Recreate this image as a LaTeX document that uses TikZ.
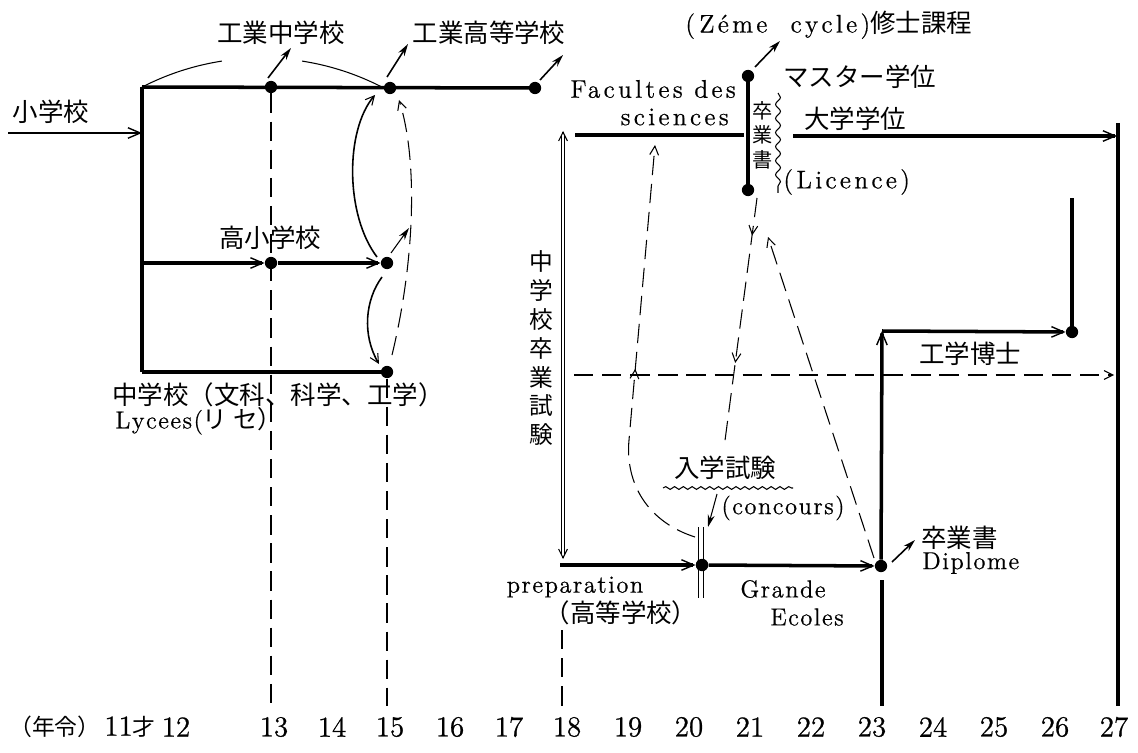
\documentclass[tikz,border=0pt]{standalone}
\usepackage{fontspec}
\newfontfamily\jp{Noto Sans CJK JP}
\newfontfamily\lat{lmroman12-regular.otf}[LetterSpace=6.0,FakeBold=0.6]
\newfontfamily\latw{lmroman12-regular.otf}[LetterSpace=13.0,FakeBold=0.6]
\newfontfamily\num{lmroman12-regular.otf}[FakeBold=0.8]
\usetikzlibrary{arrows.meta,decorations.pathmorphing,decorations.markings,calc}
\tikzset{
  sb/.tip={Straight Barb[length=5pt,width=5pt,line width=0.6pt]},
  bb/.tip={Straight Barb[length=7pt,width=6pt,line width=0.8pt]},
  stk/.tip={Stealth[length=7pt,width=4pt]},
  thk/.style={line width=2pt},
  mid/.style={line width=0.9pt},
  thn/.style={line width=0.6pt},
  dsh/.style={line width=0.6pt, dash pattern=on 11pt off 5pt},
  dot/.style={circle, fill=black, inner sep=0pt, minimum size=7pt},
  jt/.style={font=\jp\fontsize{14.5}{17}\selectfont, inner sep=0pt},
  lt/.style={font=\lat\fontsize{14}{17}\selectfont, inner sep=0pt},
  lw/.style={font=\latw\fontsize{14.5}{17}\selectfont, inner sep=0pt},
  bl/.style={font=\num\fontsize{16.5}{18}\selectfont, inner sep=0pt},
  bj/.style={font=\jp\fontsize{13}{15}\selectfont, inner sep=0pt},
  vt/.style={font=\jp\fontsize{13.5}{16.5}\selectfont, align=center, inner sep=0pt},
  vs/.style={font=\jp\fontsize{11.5}{14}\selectfont, align=center, inner sep=0pt},
  midarrow/.style={postaction={decorate, decoration={markings, mark=at position #1 with {\arrow{sb}}}}},
}
\begin{document}
\begin{tikzpicture}[x=0.02cm,y=-0.02cm]
\useasboundingbox (0,0) rectangle (1138,753);

% ---------------- left part ----------------
\coordinate (sIn) at (8,133);
\coordinate (cIn) at (142,133);
\coordinate (cTL) at (142,87);
\coordinate (cML) at (142,263);
\coordinate (cBL) at (142,372);
\node[dot] (d13t) at (271,87) {};
\node[dot] (d15t) at (390,88) {};
\node[dot] (d17t) at (535,88) {};
\node[dot] (d13m) at (271,263) {};
\node[dot] (d15m) at (387,263) {};
\node[dot] (d15b) at (387,372) {};

\draw[thk] (cTL) -- (d17t.center);
\draw[thk] (cTL) -- (cBL);
\draw[thk] (cBL) -- (d15b.center);
\draw[thk,-{bb}] (cML) -- (d13m);
\draw[thk,-{bb}] (d13m) -- (d15m);
\draw[line width=1.6pt,-{bb}] (sIn) -- (cIn);

% bracket arc over the top line
\draw[thn] plot[domain=-27.3:-8.8, samples=25, smooth] ({262+262*sin(\x)},{320-262*cos(\x)});
\draw[thn] plot[domain=8.8:27.5, samples=25, smooth] ({262+262*sin(\x)},{320-262*cos(\x)});

% short exit arrows
\coordinate (a13s) at (268,78);  \coordinate (a13e) at (291,48);
\coordinate (a15s) at (387,77);  \coordinate (a15e) at (408,44);
\coordinate (a17s) at (540,80);  \coordinate (a17e) at (563,55);
\coordinate (a15ms) at (391,253); \coordinate (a15me) at (409,228);
\draw[mid,-{stk}] (a13s) -- (a13e);
\draw[mid,-{stk}] (a15s) -- (a15e);
\draw[mid,-{stk}] (a17s) -- (a17e);
\draw[thn,-{stk}] (a15ms) -- (a15me);

% curved transfers at 15
\coordinate (c1s) at (377,257); \coordinate (c1e) at (375,95);
\draw[mid,-{sb}] (c1s) .. controls (345,215) and (345,130) .. (c1e);
\coordinate (c2s) at (382,277); \coordinate (c2e) at (379,364);
\draw[mid,-{sb}] (c2s) .. controls (365,300) and (362,335) .. (c2e);
\coordinate (c3s) at (392,355); \coordinate (c3e) at (399,100);
\draw[dsh,-{sb}] (c3s) .. controls (415,260) and (418,160) .. (c3e);

% dashed age lines
\coordinate (e13) at (271,706);
\coordinate (e15) at (387,706);
\coordinate (s18) at (562,630); \coordinate (e18) at (562,706);
\draw[dsh] (d13t) -- (e13);
\draw[dsh] (d15b) -- (e15);
\draw[dsh] (s18) -- (e18);

% left texts
\node[jt] (tSho) at (51,112) {小学校};
\node[jt] (tKchu) at (281,33) {工業中学校};
\node[jt] (tKko) at (489,33) {工業高等学校};
\node[jt] (tKoho) at (270,238) {高小学校};
\node[jt,anchor=west] (tChu) at (112,395) {中学校（文科、科学、工学）};
\node[lt,anchor=west] (tLyc) at (115,421) {Lycees({\jp リ セ）}};

% ---------------- right part ----------------
\node[lw,anchor=west] (tFac) at (570,89) {Facultes des};
\node[lw,anchor=east] (tSci) at (729,117) {sciences};
\node[lw,anchor=west] (tZeme) at (685,25) {(\,Z\'eme\ \ cycle){\jp 修士課程}};
\node[jt,anchor=west] (tMaster) at (783,77) {マスター学位};
\node[jt] (tDaigaku) at (855,119) {大学学位};
\node[lw,anchor=west] (tLic) at (783,182) {(Licence)};
\node[vs] (tSotsu) at (763,135) {卒\\業\\書};
\node[vt] (tExam) at (541,348) {中\\学\\校\\卒\\業\\試\\験};

\node[dot] (d21t) at (748,76) {};
\node[dot] (d21b) at (748,190) {};
\draw[thk] (d21t.center) -- (d21b.center);
\coordinate (a21s) at (755,67); \coordinate (a21e) at (780,41);
\draw[mid,-{stk}] (a21s) -- (a21e);

% wavy brace
\coordinate (wb1) at (778,93); \coordinate (wb2) at (778,193);
\draw[thn, decorate, decoration={snake, amplitude=1.4pt, segment length=8pt}] (wb1) -- (wb2);

% Facultes line
\coordinate (f1) at (575,135); \coordinate (f2) at (744,135);
\coordinate (f3) at (793,136); \coordinate (c27t) at (1118,123); \coordinate (f4) at (1117,136);
\coordinate (c27b) at (1118,706);
\draw[thk] (f1) -- (f2);
\draw[thk,-{bb}] (f3) -- (f4);
\draw[thk] (c27t) -- (c27b);

% double arrow (exam)
\coordinate (q1) at (563,131); \coordinate (q2) at (563,559);
\draw[line width=0.5pt] ($(q1)+(-1.6,4)$) -- ($(q2)+(-1.6,-4)$);
\draw[line width=0.5pt] ($(q1)+(1.6,4)$) -- ($(q2)+(1.6,-4)$);
\draw[thn,-{sb}] ($(q1)+(0,1)$) -- (q1);
\draw[thn,-{sb}] ($(q2)+(0,-1)$) -- (q2);

% bottom route
\coordinate (cPrep) at (560,565);
\node[dot] (d20) at (702,565) {};
\node[dot] (d23) at (881,566) {};
\draw[line width=0.5pt, double distance=2.6pt] (701,527) -- (701,598);
\node[dot] at (d20) {};
\draw[thk,-{bb}] (cPrep) -- (d20);
\draw[thk,-{bb}] (d20) -- (d23);
\coordinate (cL) at (882,331);
\node[dot] (d26) at (1072,332) {};
\draw[thk,-{bb}] (d23) -- (cL);
\draw[thk,-{bb}] (cL) -- (d26);
\coordinate (c26t) at (1072,198);
\draw[thk] (d26.center) -- (c26t);
\coordinate (c23a) at (882,580); \coordinate (c23b) at (882,706);
\draw[thk] (c23a) -- (c23b);
\coordinate (dpS) at (892,562); \coordinate (dpE) at (915,540);
\draw[mid,-{stk}] (dpS) -- (dpE);

% dashed connections
\coordinate (h1) at (574,375); \coordinate (h2) at (1114,375);
\draw[dsh,-{sb}] (h1) -- (h2);
\coordinate (g1) at (695,537); \coordinate (g2) at (629,440); \coordinate (g3) at (655,145);
\draw[dsh,-{sb},midarrow=0.47] (g1) .. controls (648,522) and (625,484) .. (g2) -- (g3);
\coordinate (m1) at (757,198); \coordinate (m2) at (724,448);
\draw[dsh,midarrow=0.15,midarrow=0.66] (m1) -- (m2);
\coordinate (r1) at (874,558); \coordinate (r2) at (768,237);
\draw[dsh,-{sb}] (r1) -- (r2);
\coordinate (k1) at (717,494); \coordinate (k2) at (708,527);
\draw[thn,-{stk}] (k1) -- (k2);

% exam texts
\node[jt] (tNyu) at (725,468) {入学試験};
\coordinate (w1) at (663,488); \coordinate (w2) at (793,488);
\draw[thn, decorate, decoration={snake, amplitude=0.8pt, segment length=5pt}] (w1) -- (w2);
\node[lt] (tConc) at (783,508) {(concours)};
\node[jt] (tKogaku) at (970,354) {工学博士};
\node[lt] (tPrep) at (575,587) {preparation};
\node[jt] (tKoto) at (621,613) {（高等学校）};
\node[lt] (tGrande) at (783,589) {Grande};
\node[lt] (tEcoles) at (807,617) {Ecoles};
\node[jt,anchor=west] (tSotsu2) at (921,538) {卒業書};
\node[lt,anchor=west] (tDipl) at (922,563) {Diplome};

% ---------------- age axis ----------------
\node[bj] (yNen) at (55,727) {（年令）};
\node[bl] (y11) at (130,727) {11{\jp\fontsize{13}{15}\selectfont 才}};
\node[bl] (y12) at (176,727) {12};
\node[bl] (y13) at (274,727) {13};
\node[bl] (y14) at (332,727) {14};
\node[bl] (y15) at (390,727) {15};
\node[bl] (y16) at (450,727) {16};
\node[bl] (y17) at (509,727) {17};
\node[bl] (y18) at (567,727) {18};
\node[bl] (y19) at (628,727) {19};
\node[bl] (y20) at (689,727) {20};
\node[bl] (y21) at (750,727) {21};
\node[bl] (y22) at (811,727) {22};
\node[bl] (y23) at (872,727) {23};
\node[bl] (y24) at (933,727) {24};
\node[bl] (y25) at (994,727) {25};
\node[bl] (y26) at (1055,727) {26};
\node[bl] (y27) at (1114,727) {27};
\end{tikzpicture}
\end{document}
